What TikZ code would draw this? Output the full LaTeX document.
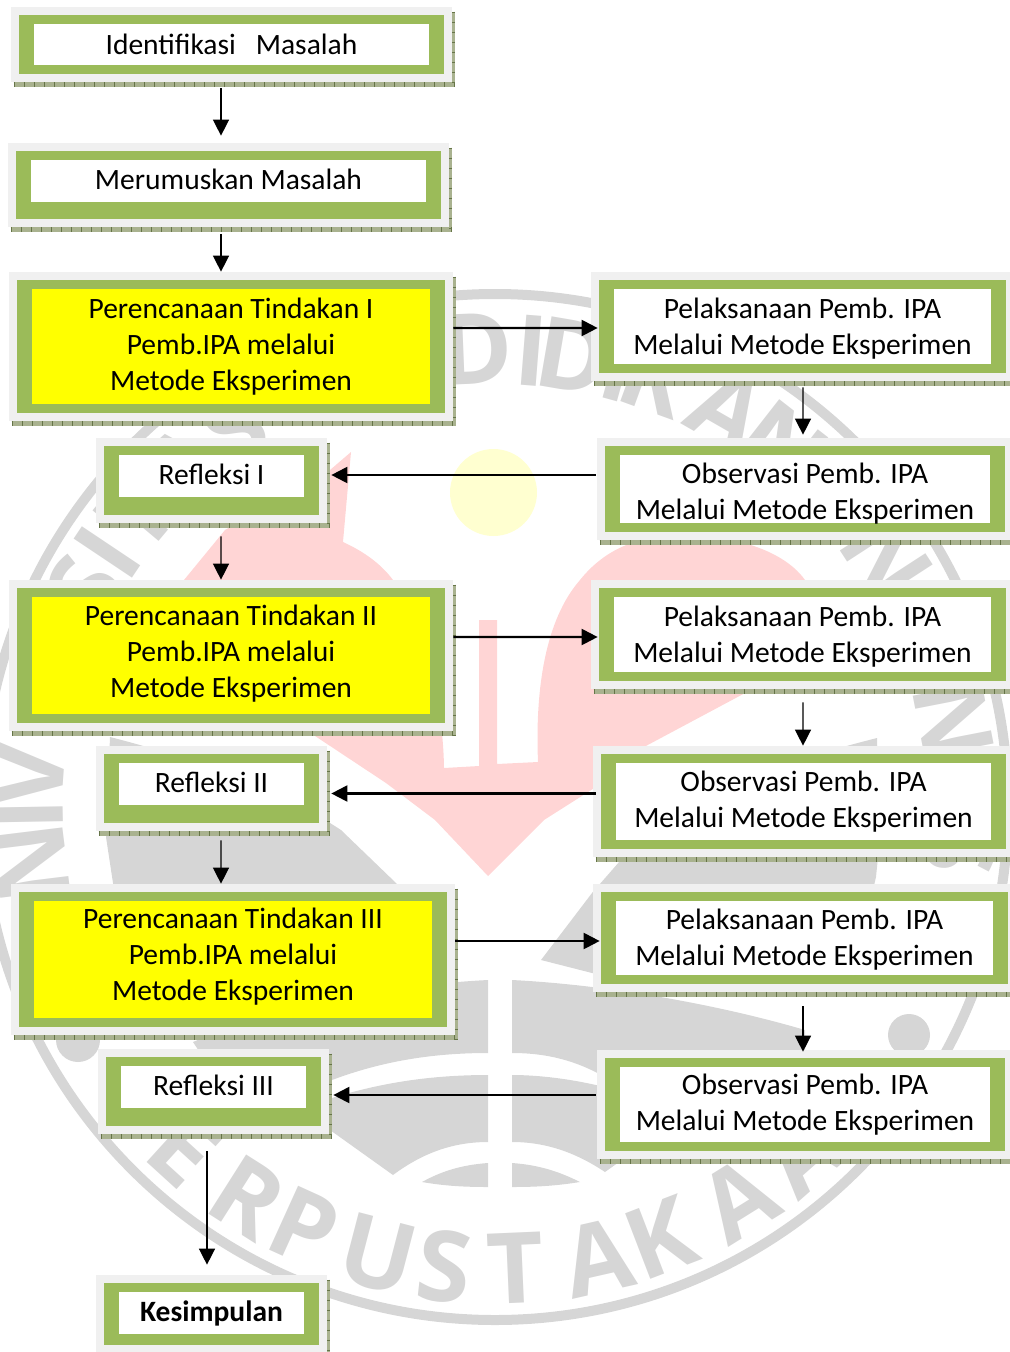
\documentclass[tikz,border=0pt]{standalone}
\usepackage{fontspec}
\setmainfont{Carlito}
\newfontfamily\wmfont{Open Sans}
\usetikzlibrary{backgrounds, calc, arrows.meta}
\definecolor{hijau}{HTML}{9BBB59}
\definecolor{abu}{HTML}{F0F0F0}
\definecolor{kuning}{RGB}{255,255,0}
\definecolor{bayang}{HTML}{A9B28F}
\definecolor{garisbayang}{HTML}{667548}
\definecolor{wmgray}{HTML}{D6D6D6}
\definecolor{wmred}{HTML}{FFD5D5}
\definecolor{wmyellow}{HTML}{FFFFD0}
% tinggi baris pertama / dalam baris terakhir, untuk menggeser teks di dalam kotak
\newcommand{\turun}[1]{\rule{0pt}{#1}}
\newcommand{\naik}[1]{\rule[-#1]{0pt}{0pt}}

\begin{document}
\begin{tikzpicture}[x=0.02cm, y=-0.02cm,
  main node/.style={fill=white,inner sep=0pt,align=center,font=\fontsize{16.8}{20.4}\selectfont},
  yellow node/.style={main node,fill=kuning},
  ukuran/.style 2 args={minimum width=#1*0.02cm,minimum height=#2*0.02cm},
  huruf/.style={text=wmgray,font=\wmfont\bfseries\fontsize{56}{60}\selectfont,inner sep=0pt},
  panah/.style={line width=1.2pt,-{Triangle[width=0.32cm,length=0.32cm]}},
  panah tipis/.style={panah,line width=0.8pt}]

\useasboundingbox (0,0) rectangle (1010,1352);

\node[main node,ukuran={395}{41}] (ident) at (231.5,44.5) {Identifikasi\ \ \ Masalah};
\node[main node,ukuran={395}{42}] (rumus) at (228.5,181) {Merumuskan Masalah\naik{0.08cm}};
\node[yellow node,ukuran={398}{115}] (renc1) at (231,346.5) {Perencanaan Tindakan I\\Pemb.IPA melalui\\Metode Eksperimen};
\node[main node,ukuran={377}{75}] (pel1) at (802.5,326.5) {\turun{0.51cm}Pelaksanaan Pemb. IPA\\Melalui Metode Eksperimen};
\node[main node,ukuran={370}{68},text depth=0pt] (obs1) at (805,489) {\turun{0.5cm}Observasi Pemb. IPA\\Melalui Metode Eksperimen};
\node[main node,ukuran={185}{42}] (ref1) at (211.5,476) {Refleksi I\naik{0.08cm}};
\node[yellow node,ukuran={398}{117}] (renc2) at (231,655.5) {Perencanaan Tindakan II\\Pemb.IPA melalui\\Metode Eksperimen\naik{0.18cm}};
\node[main node,ukuran={377}{75}] (pel2) at (802.5,634.5) {\turun{0.51cm}Pelaksanaan Pemb. IPA\\Melalui Metode Eksperimen};
\node[main node,ukuran={375}{77}] (obs2) at (803.5,801.5) {Observasi Pemb. IPA\\Melalui Metode Eksperimen};
\node[main node,ukuran={185}{42}] (ref2) at (211.5,784) {Refleksi II\naik{0.08cm}};
\node[yellow node,ukuran={398}{117}] (renc3) at (233,959.5) {Perencanaan Tindakan III\\Pemb.IPA melalui\\Metode Eksperimen\naik{0.2cm}};
\node[main node,ukuran={377}{74}] (pel3) at (804.5,938) {\turun{0.49cm}Pelaksanaan Pemb. IPA\\Melalui Metode Eksperimen};
\node[main node,ukuran={370}{75}] (obs3) at (805,1104.5) {Observasi Pemb. IPA\\Melalui Metode Eksperimen};
\node[main node,ukuran={185}{42}] (ref3) at (213.5,1087) {Refleksi III\naik{0.08cm}};
\node[main node,ukuran={185}{42},font=\fontsize{16.8}{20.4}\selectfont\bfseries] (kes) at (211.5,1313) {Kesimpulan};

\draw[panah tipis] ([shift={(-10.5,23)}]ident.south) -- ([shift={(-7.5,-24)}]rumus.north);
\draw[panah tipis] ([shift={(-7.5,32)}]rumus.south) -- ([shift={(-10,-17)}]renc1.north);
\draw[panah] ([shift={(23,-18.5)}]renc1.east) -- ([shift={(-16,1.5)}]pel1.west);
\draw[panah tipis] ([shift={(0.5,23)}]pel1.south) -- ([shift={(-2,-20)}]obs1.north);
\draw[panah] ([shift={(-24,-14)}]obs1.west) -- ([shift={(27,-1)}]ref1.east);
\draw[panah tipis] ([shift={(9.5,39)}]ref1.south) -- ([shift={(-10,-17)}]renc2.north);
\draw[panah] ([shift={(23,-18.5)}]renc2.east) -- ([shift={(-16,2.5)}]pel2.west);
\draw[panah tipis] ([shift={(0.5,30)}]pel2.south) -- ([shift={(-0.5,-17)}]obs2.north);
\draw[panah] ([shift={(-20,-8)}]obs2.west) -- ([shift={(27,9.5)}]ref2.east);
\draw[panah tipis] ([shift={(9.5,35)}]ref2.south) -- ([shift={(-12,-17)}]renc3.north);
\draw[panah] ([shift={(23,-18.5)}]renc3.east) -- ([shift={(-16,3)}]pel3.west);
\draw[panah tipis] ([shift={(-1.5,31)}]pel3.south) -- ([shift={(-2,-15)}]obs3.north);
\draw[panah] ([shift={(-24,-9.5)}]obs3.west) -- ([shift={(27,8)}]ref3.east);
\draw[panah tipis] ([shift={(-6.5,43)}]ref3.south) -- ([shift={(-4.5,-27)}]kes.north);

\begin{scope}[on background layer]
% watermark
\draw[wmgray,line width=0.2cm] (495,807) circle (513);
\fill[wmgray] (110,737) .. controls (200,760) and (280,790) .. (341,830) -- (396,883)
  .. controls (425,915) and (440,935) .. (447,960) -- (396,973) -- (138,990) -- (113,883) -- (106,837) -- cycle;
\fill[wmgray] (877,738) .. controls (790,760) and (700,790) .. (647,830) -- (592,893)
  -- (541,960) -- (592,973) -- (850,990) -- (876,877) -- (880,837) -- cycle;
\fill[wmgray] (488,980) .. controls (390,985) and (280,1005) .. (193,1042) -- (215,1075) -- (332,1080)
  .. controls (380,1062) and (430,1053) .. (488,1053) -- cycle;
\fill[wmgray] (512,980) .. controls (610,985) and (720,1005) .. (805,1030) -- (805,1075) -- (610,1080)
  .. controls (580,1062) and (550,1053) .. (512,1053) -- cycle;
\fill[wmgray] (488,1075) .. controls (430,1075) and (380,1083) .. (332,1098) -- (250,1098) -- (330,1130) -- (393,1175)
  .. controls (420,1155) and (450,1142) .. (488,1142) -- cycle;
\fill[wmgray] (512,1075) .. controls (550,1075) and (600,1083) .. (640,1098) -- (700,1098) -- (650,1140) -- (605,1172)
  .. controls (575,1152) and (545,1142) .. (512,1142) -- cycle;
\fill[wmgray] (488,1163) .. controls (460,1165) and (440,1172) .. (422,1182) .. controls (445,1186) and (465,1187) .. (488,1187) -- cycle;
\fill[wmgray] (512,1163) .. controls (540,1165) and (560,1172) .. (580,1182) .. controls (555,1186) and (535,1187) .. (512,1187) -- cycle;
\fill[wmgray] (909,1035) circle (21);
\fill[wmgray] (78,1040) circle (22);
\foreach \huruf/\t [count=\i] in {N/-97,I/-91,V/-86,S/-61.6,I/-56.2,T/-50,A/-42,S/-34,D/-2.3,I/4.5,D/9.7,I/15.5,K/20,A/29.9,N/38,N/57,N/79,S/95}
  \node[huruf,rotate=-\t] (atas\i) at ({495+467*sin(\t)},{807-458*cos(\t)}) {\huruf};
\foreach \huruf/\t [count=\i] in {E/42.3,R/32.4,P/24.4,U/14.6,S/6.3,T/-2.5,A/-12.8,K/-21,A/-31.9,A/-41.4}
  \node[huruf,rotate=-\t] (bawah\i) at ({495-462*sin(\t)},{807+462*cos(\t)}) {\huruf};
\fill[wmyellow] (493.5,492.5) circle (43.5);
\fill[wmred] (351,452) -- (343,542) .. controls (365,552) and (382,565) .. (393,580)
  .. controls (425,640) and (443,700) .. (444,768) -- (479,766) -- (479,620) -- (497,620) -- (497,764) -- (538,762)
  .. controls (535,690) and (545,620) .. (580,580) .. controls (600,555) and (625,542) .. (655,537)
  .. controls (715,530) and (780,545) .. (805,580) .. controls (815,620) and (785,665) .. (747,692)
  -- (644,747) -- (596,787) -- (544,820) -- (488,876) -- (435,820) -- (386,783) -- (309,732)
  .. controls (240,680) and (165,640) .. (184,580) -- (225,530) -- (330,470) -- cycle;
% kotak
\foreach \n/\b in {ident/9,rumus/17,renc1/9,pel1/9,obs1/9,ref1/18,renc2/9,pel2/9,obs2/9,ref2/18,renc3/9,pel3/9,obs3/9,ref3/18,kes/11}{
  \fill[bayang] ($(\n.north west)+(-20,-12)$) rectangle ($(\n.south east)+(26,\b+13)$);
  \draw[garisbayang,line width=0.1cm,dash pattern=on 0.4pt off 5.3pt] ($(\n.south west)+(-20,\b+10.5)$) -- ($(\n.south east)+(26,\b+10.5)$);
  \draw[garisbayang,line width=0.06cm,dash pattern=on 0.4pt off 5.3pt] ($(\n.north east)+(24.5,-12)$) -- ($(\n.south east)+(24.5,\b+13)$);
  \fill[abu] ($(\n.north west)+(-23,-17)$) rectangle ($(\n.south east)+(23,\b+8)$);
  \fill[hijau] ($(\n.north west)+(-15,-9)$) rectangle ($(\n.south east)+(15,\b)$);
}
\end{scope}

\end{tikzpicture}
\end{document}
